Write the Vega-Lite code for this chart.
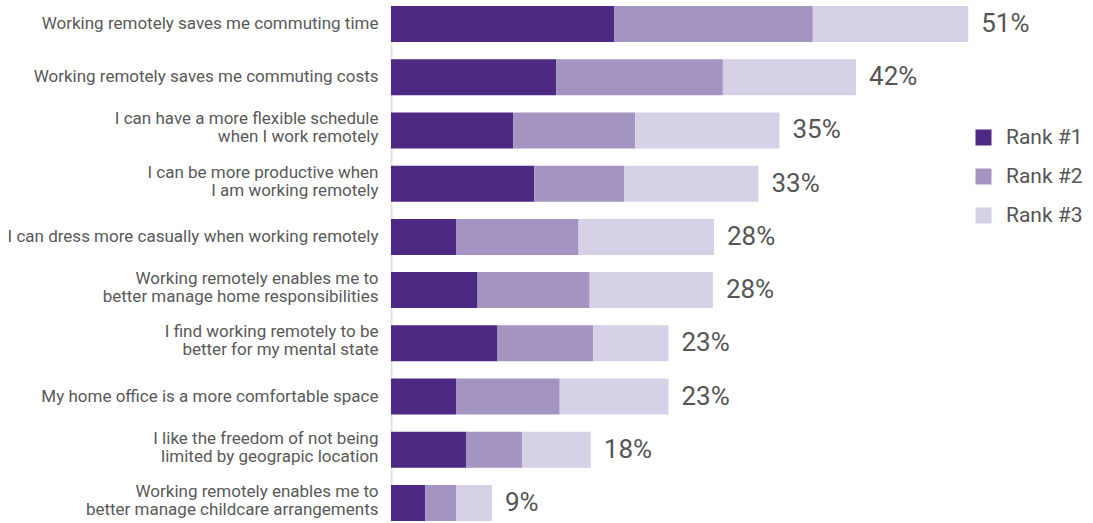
{
  "$schema": "https://vega.github.io/schema/vega-lite/v6.json",
  "width": 666,
  "height": 515,
  "autosize": {"type": "none"},
  "padding": {"left": 391, "top": 6, "right": 36, "bottom": 2},
  "background": "white",
  "config": {"view": {"stroke": null}, "font": "Roboto"},
  "data": {
    "values": [
      {"category": "Working remotely saves me commuting time", "rank": "Rank #1", "value": 20.1, "total": "51%"},
      {"category": "Working remotely saves me commuting time", "rank": "Rank #2", "value": 17.9, "total": "51%"},
      {"category": "Working remotely saves me commuting time", "rank": "Rank #3", "value": 14.0, "total": "51%"},
      {"category": "Working remotely saves me commuting costs", "rank": "Rank #1", "value": 14.9, "total": "42%"},
      {"category": "Working remotely saves me commuting costs", "rank": "Rank #2", "value": 15.0, "total": "42%"},
      {"category": "Working remotely saves me commuting costs", "rank": "Rank #3", "value": 12.0, "total": "42%"},
      {"category": "I can have a more flexible schedule|when I work remotely", "rank": "Rank #1", "value": 11.0, "total": "35%"},
      {"category": "I can have a more flexible schedule|when I work remotely", "rank": "Rank #2", "value": 11.0, "total": "35%"},
      {"category": "I can have a more flexible schedule|when I work remotely", "rank": "Rank #3", "value": 13.0, "total": "35%"},
      {"category": "I can be more productive when|I am working remotely", "rank": "Rank #1", "value": 12.9, "total": "33%"},
      {"category": "I can be more productive when|I am working remotely", "rank": "Rank #2", "value": 8.1, "total": "33%"},
      {"category": "I can be more productive when|I am working remotely", "rank": "Rank #3", "value": 12.1, "total": "33%"},
      {"category": "I can dress more casually when working remotely", "rank": "Rank #1", "value": 5.9, "total": "28%"},
      {"category": "I can dress more casually when working remotely", "rank": "Rank #2", "value": 11.0, "total": "28%"},
      {"category": "I can dress more casually when working remotely", "rank": "Rank #3", "value": 12.2, "total": "28%"},
      {"category": "Working remotely enables me to|better manage home responsibilities", "rank": "Rank #1", "value": 7.8, "total": "28%"},
      {"category": "Working remotely enables me to|better manage home responsibilities", "rank": "Rank #2", "value": 10.1, "total": "28%"},
      {"category": "Working remotely enables me to|better manage home responsibilities", "rank": "Rank #3", "value": 11.1, "total": "28%"},
      {"category": "I find working remotely to be|better for my mental state", "rank": "Rank #1", "value": 9.6, "total": "23%"},
      {"category": "I find working remotely to be|better for my mental state", "rank": "Rank #2", "value": 8.6, "total": "23%"},
      {"category": "I find working remotely to be|better for my mental state", "rank": "Rank #3", "value": 6.8, "total": "23%"},
      {"category": "My home office is a more comfortable space", "rank": "Rank #1", "value": 5.9, "total": "23%"},
      {"category": "My home office is a more comfortable space", "rank": "Rank #2", "value": 9.3, "total": "23%"},
      {"category": "My home office is a more comfortable space", "rank": "Rank #3", "value": 9.8, "total": "23%"},
      {"category": "I like the freedom of not being|limited by geograpic location", "rank": "Rank #1", "value": 6.8, "total": "18%"},
      {"category": "I like the freedom of not being|limited by geograpic location", "rank": "Rank #2", "value": 5.0, "total": "18%"},
      {"category": "I like the freedom of not being|limited by geograpic location", "rank": "Rank #3", "value": 6.2, "total": "18%"},
      {"category": "Working remotely enables me to|better manage childcare arrangements", "rank": "Rank #1", "value": 3.1, "total": "9%"},
      {"category": "Working remotely enables me to|better manage childcare arrangements", "rank": "Rank #2", "value": 2.8, "total": "9%"},
      {"category": "Working remotely enables me to|better manage childcare arrangements", "rank": "Rank #3", "value": 3.2, "total": "9%"}
    ]
  },
  "encoding": {
    "y": {
      "field": "category",
      "type": "nominal",
      "sort": null,
      "scale": {"paddingInner": 0.323, "paddingOuter": 0},
      "axis": {
        "title": null,
        "ticks": false,
        "domain": true,
        "domainColor": "#e3e3e3",
        "domainWidth": 2,
        "labelPadding": 13,
        "labelFontSize": 17,
        "labelColor": "#595959",
        "labelLimit": 0,
        "labelLineHeight": 18,
        "labelOffset": {"condition": {"test": "indexof(datum.value, '|') >= 0", "value": -11}, "value": 0},
        "labelExpr": "split(datum.label, '|')"
      }
    }
  },
  "layer": [
    {
      "mark": {"type": "bar"},
      "encoding": {
        "x": {"field": "value", "type": "quantitative", "stack": "zero", "scale": {"domain": [0, 60]}, "axis": null},
        "color": {
          "field": "rank",
          "type": "nominal",
          "scale": {"domain": ["Rank #1", "Rank #2", "Rank #3"], "range": ["#4E2984", "#A494C2", "#D6D1E6"]},
          "legend": {
            "title": null,
            "orient": "none",
            "legendX": 582,
            "legendY": 121,
            "symbolType": "square",
            "symbolSize": 256,
            "symbolStrokeWidth": 0,
            "labelFontSize": 21,
            "labelColor": "#555555",
            "labelOffset": 12,
            "rowPadding": 17,
            "padding": 0
          }
        },
        "order": {"field": "rank", "sort": "ascending"}
      }
    },
    {
      "transform": [{"aggregate": [{"op": "sum", "field": "value", "as": "sum"}], "groupby": ["category", "total"]}],
      "mark": {"type": "text", "align": "left", "baseline": "middle", "dx": 13, "fontSize": 26, "color": "#555555"},
      "encoding": {
        "x": {"field": "sum", "type": "quantitative"},
        "text": {"field": "total"}
      }
    }
  ]
}
